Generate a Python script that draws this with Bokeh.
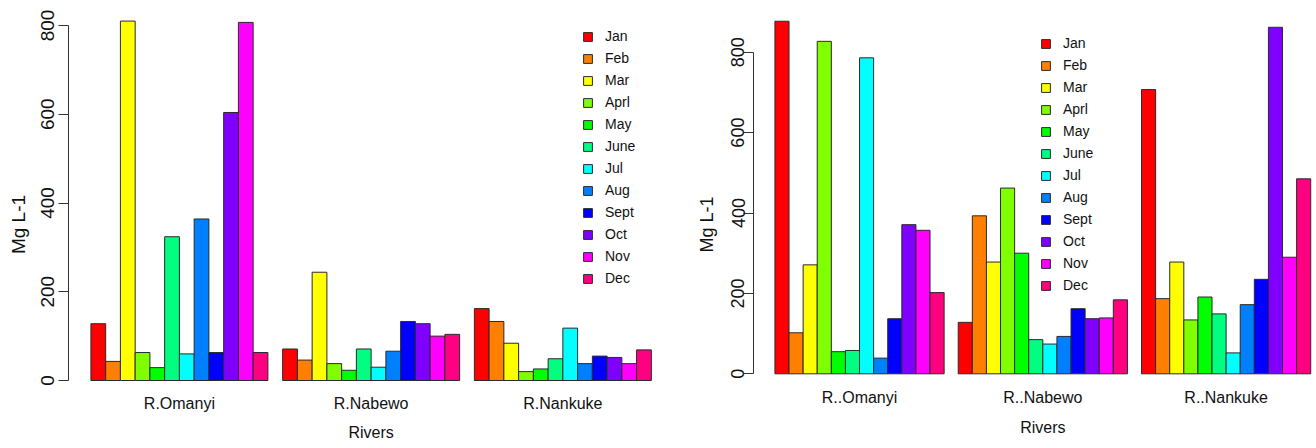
from bokeh.plotting import figure
from bokeh.layouts import row
from bokeh.models import FixedTicker, Range1d
from bokeh.core.properties import value
from bokeh.embed import file_html
from bokeh.resources import INLINE

months = ["Jan", "Feb", "Mar", "Aprl", "May", "June", "Jul", "Aug", "Sept", "Oct", "Nov", "Dec"]
colors = ["#FF0000", "#FF8000", "#FFFF00", "#80FF00", "#00FF00", "#00FF80",
          "#00FFFF", "#0080FF", "#0000FF", "#8000FF", "#FF00FF", "#FF0080"]

rivers_left = ["R.Omanyi", "R.Nabewo", "R.Nankuke"]
rivers_right = ["R..Omanyi", "R..Nabewo", "R..Nankuke"]
x_title = "Rivers"
y_title = "Mg L-1"

# values per river and month, Mg L-1
left_omanyi = [128, 43, 810, 63, 29, 324, 60, 364, 63, 604, 807, 63]
left_nabewo = [71, 46, 244, 38, 23, 71, 30, 66, 133, 128, 100, 104]
left_nankuke = [162, 133, 84, 20, 26, 49, 118, 38, 55, 52, 38, 69]

right_omanyi = [877, 102, 271, 827, 55, 58, 786, 39, 137, 371, 357, 202]
right_nabewo = [128, 393, 278, 462, 300, 85, 74, 93, 162, 137, 139, 184]
right_nankuke = [707, 187, 278, 134, 191, 149, 52, 172, 235, 862, 290, 485]

y_ticks = [0, 200, 400, 600, 800]

FONT = "Liberation Sans"
H = 448  # figure height


def make_panel(rivers, series, width, min_left, x_end, zero_px, px_per_unit,
               leg_loc, leg_font, tick_font, lab_font, grp_font,
               major_standoff, label_standoff, grp_dy, title_dy):
    # zero_px: pixel row (from figure top) of value 0
    y_end = zero_px / px_per_unit
    y_start = -(H - zero_px) / px_per_unit
    p = figure(width=width, height=H, output_backend="svg", toolbar_location=None,
               x_range=Range1d(-0.52, x_end), y_range=Range1d(y_start, y_end),
               x_axis_location=None,
               min_border_left=min_left, min_border_right=0, min_border_top=0,
               min_border_bottom=0)
    p.outline_line_color = None
    p.grid.visible = False
    p.background_fill_color = "white"
    p.border_fill_color = "white"
    n = len(rivers)
    for i, m in enumerate(months):
        xs = [1 + 13 * g + i + 0.5 for g in range(n)]
        tops = [series[g][i] for g in range(n)]
        p.vbar(x=xs, top=tops, bottom=0, width=1, fill_color=colors[i],
               line_color="#2a2a2a", line_width=1, legend_label=m)

    # group names and axis title below the bars
    centers = [1 + 13 * g + 6 for g in range(n)]
    p.text(x=centers, y=[-grp_dy / px_per_unit] * n, text=rivers,
           text_font=value(FONT), text_font_size=grp_font, text_color="#111111",
           text_align="center", text_baseline="middle")
    p.text(x=[centers[n // 2]], y=[-title_dy / px_per_unit], text=[x_title],
           text_font=value(FONT), text_font_size=grp_font, text_color="#111111",
           text_align="center", text_baseline="middle")

    # y axis
    ya = p.yaxis[0]
    ya.ticker = FixedTicker(ticks=y_ticks)
    ya.bounds = (0, 800)
    ya.axis_label = y_title
    ya.axis_label_text_font = FONT
    ya.axis_label_text_font_style = "normal"
    ya.axis_label_text_font_size = lab_font
    ya.axis_label_text_color = "#111111"
    ya.axis_label_standoff = label_standoff
    ya.major_label_text_font = FONT
    ya.major_label_text_font_size = tick_font
    ya.major_label_text_color = "#111111"
    ya.major_label_orientation = "vertical"
    ya.major_label_standoff = major_standoff
    ya.major_tick_out = 10
    ya.major_tick_in = 0
    ya.minor_tick_out = 0
    ya.minor_tick_in = 0
    ya.axis_line_color = "#333333"
    ya.major_tick_line_color = "#333333"

    lg = p.legend[0]
    lg.location = leg_loc
    lg.padding = 0
    lg.margin = 0
    lg.spacing = 0
    lg.border_line_color = None
    lg.background_fill_alpha = 0
    lg.glyph_width = 11
    lg.glyph_height = 11
    lg.label_height = 22
    lg.label_standoff = 12
    lg.label_text_font = FONT
    lg.label_text_font_size = leg_font
    lg.label_text_color = "#111111"
    return p


left = make_panel(rivers_left, [left_omanyi, left_nabewo, left_nankuke],
                  width=660, min_left=68, x_end=39.62, zero_px=380, px_per_unit=0.44375,
                  leg_loc=(514, 159), leg_font="14px", tick_font="19px",
                  lab_font="19px", grp_font="16px",
                  major_standoff=5, label_standoff=9, grp_dy=23, title_dy=52)

right = make_panel(rivers_right, [right_omanyi, right_nabewo, right_nankuke],
                   width=656, min_left=93, x_end=39.41, zero_px=373.3, px_per_unit=0.402,
                   leg_loc=(287, 152), leg_font="14px", tick_font="18px",
                   lab_font="18px", grp_font="16px",
                   major_standoff=-1, label_standoff=12, grp_dy=23.4, title_dy=53.7)

layout = row(left, right)
open("out.html", "w").write(file_html(layout, INLINE))
